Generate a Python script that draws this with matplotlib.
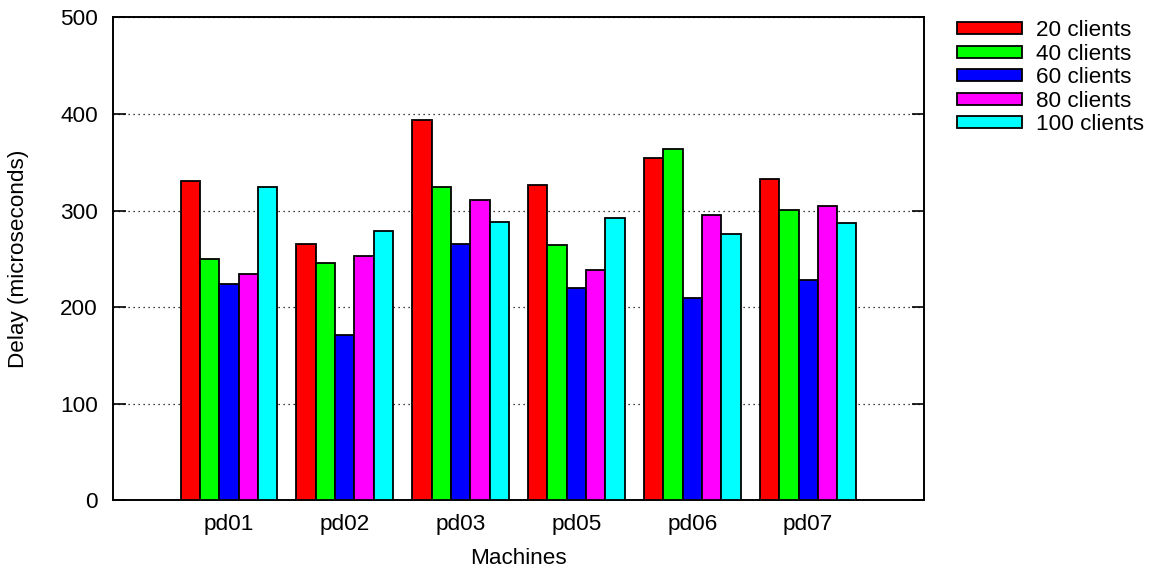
import numpy as np
import matplotlib
matplotlib.use("Agg")
import matplotlib.pyplot as plt

plt.rcParams['font.family'] = ['Liberation Sans', 'DejaVu Sans']

# delay per machine for each client count
machines = ['pd01', 'pd02', 'pd03', 'pd05', 'pd06', 'pd07']
series_labels = ['20 clients', '40 clients', '60 clients', '80 clients', '100 clients']
clients_20 = [331, 265, 394, 327, 355, 333]
clients_40 = [250, 246, 324, 264, 364, 301]
clients_60 = [224, 171, 265, 220, 210, 228]
clients_80 = [234, 253, 311, 239, 296, 305]
clients_100 = [324, 279, 288, 292, 276, 287]
colors = ['#ff0000', '#00ff00', '#0000ff', '#ff00ff', '#00ffff']

series = [clients_20, clients_40, clients_60, clients_80, clients_100]

fig = plt.figure(figsize=(11.51, 5.71), dpi=100)
ax = fig.add_axes([0.0982, 0.1235, 0.7046, 0.8459])

fs = 16.2
x = np.arange(len(machines))
width = 1.0 / 6
for i, (vals, lab, col) in enumerate(zip(series, series_labels, colors)):
    ax.bar(x + (i - 2) * width, vals, width, color=col, edgecolor='black',
           linewidth=1.3, label=lab, zorder=3)

ax.set_xlim(-1, len(machines))
ax.set_ylim(0, 500)
ax.set_yticks(range(0, 501, 100))
ax.set_xticks(x)
ax.set_xticklabels(machines)
ax.tick_params(axis='y', direction='in', length=9, width=1.2, right=True,
               labelsize=fs, pad=11)
ax.tick_params(axis='x', length=0, labelsize=fs, pad=10)
ax.yaxis.grid(True, linestyle=(0, (1, 3)), color='black', linewidth=0.9)
ax.set_axisbelow(True)
for s in ax.spines.values():
    s.set_linewidth(1.4)

ax.set_xlabel('Machines', fontsize=fs, labelpad=9)
ax.set_ylabel('Delay (microseconds)', fontsize=fs, labelpad=22)

ax.legend(loc='upper left', bbox_to_anchor=(1.0407, 0.994), frameon=False,
          fontsize=fs, handlelength=2.9, handleheight=0.45,
          labelspacing=0.11, handletextpad=0.62, borderaxespad=0,
          borderpad=0)

fig.savefig('out.png', dpi=100)
